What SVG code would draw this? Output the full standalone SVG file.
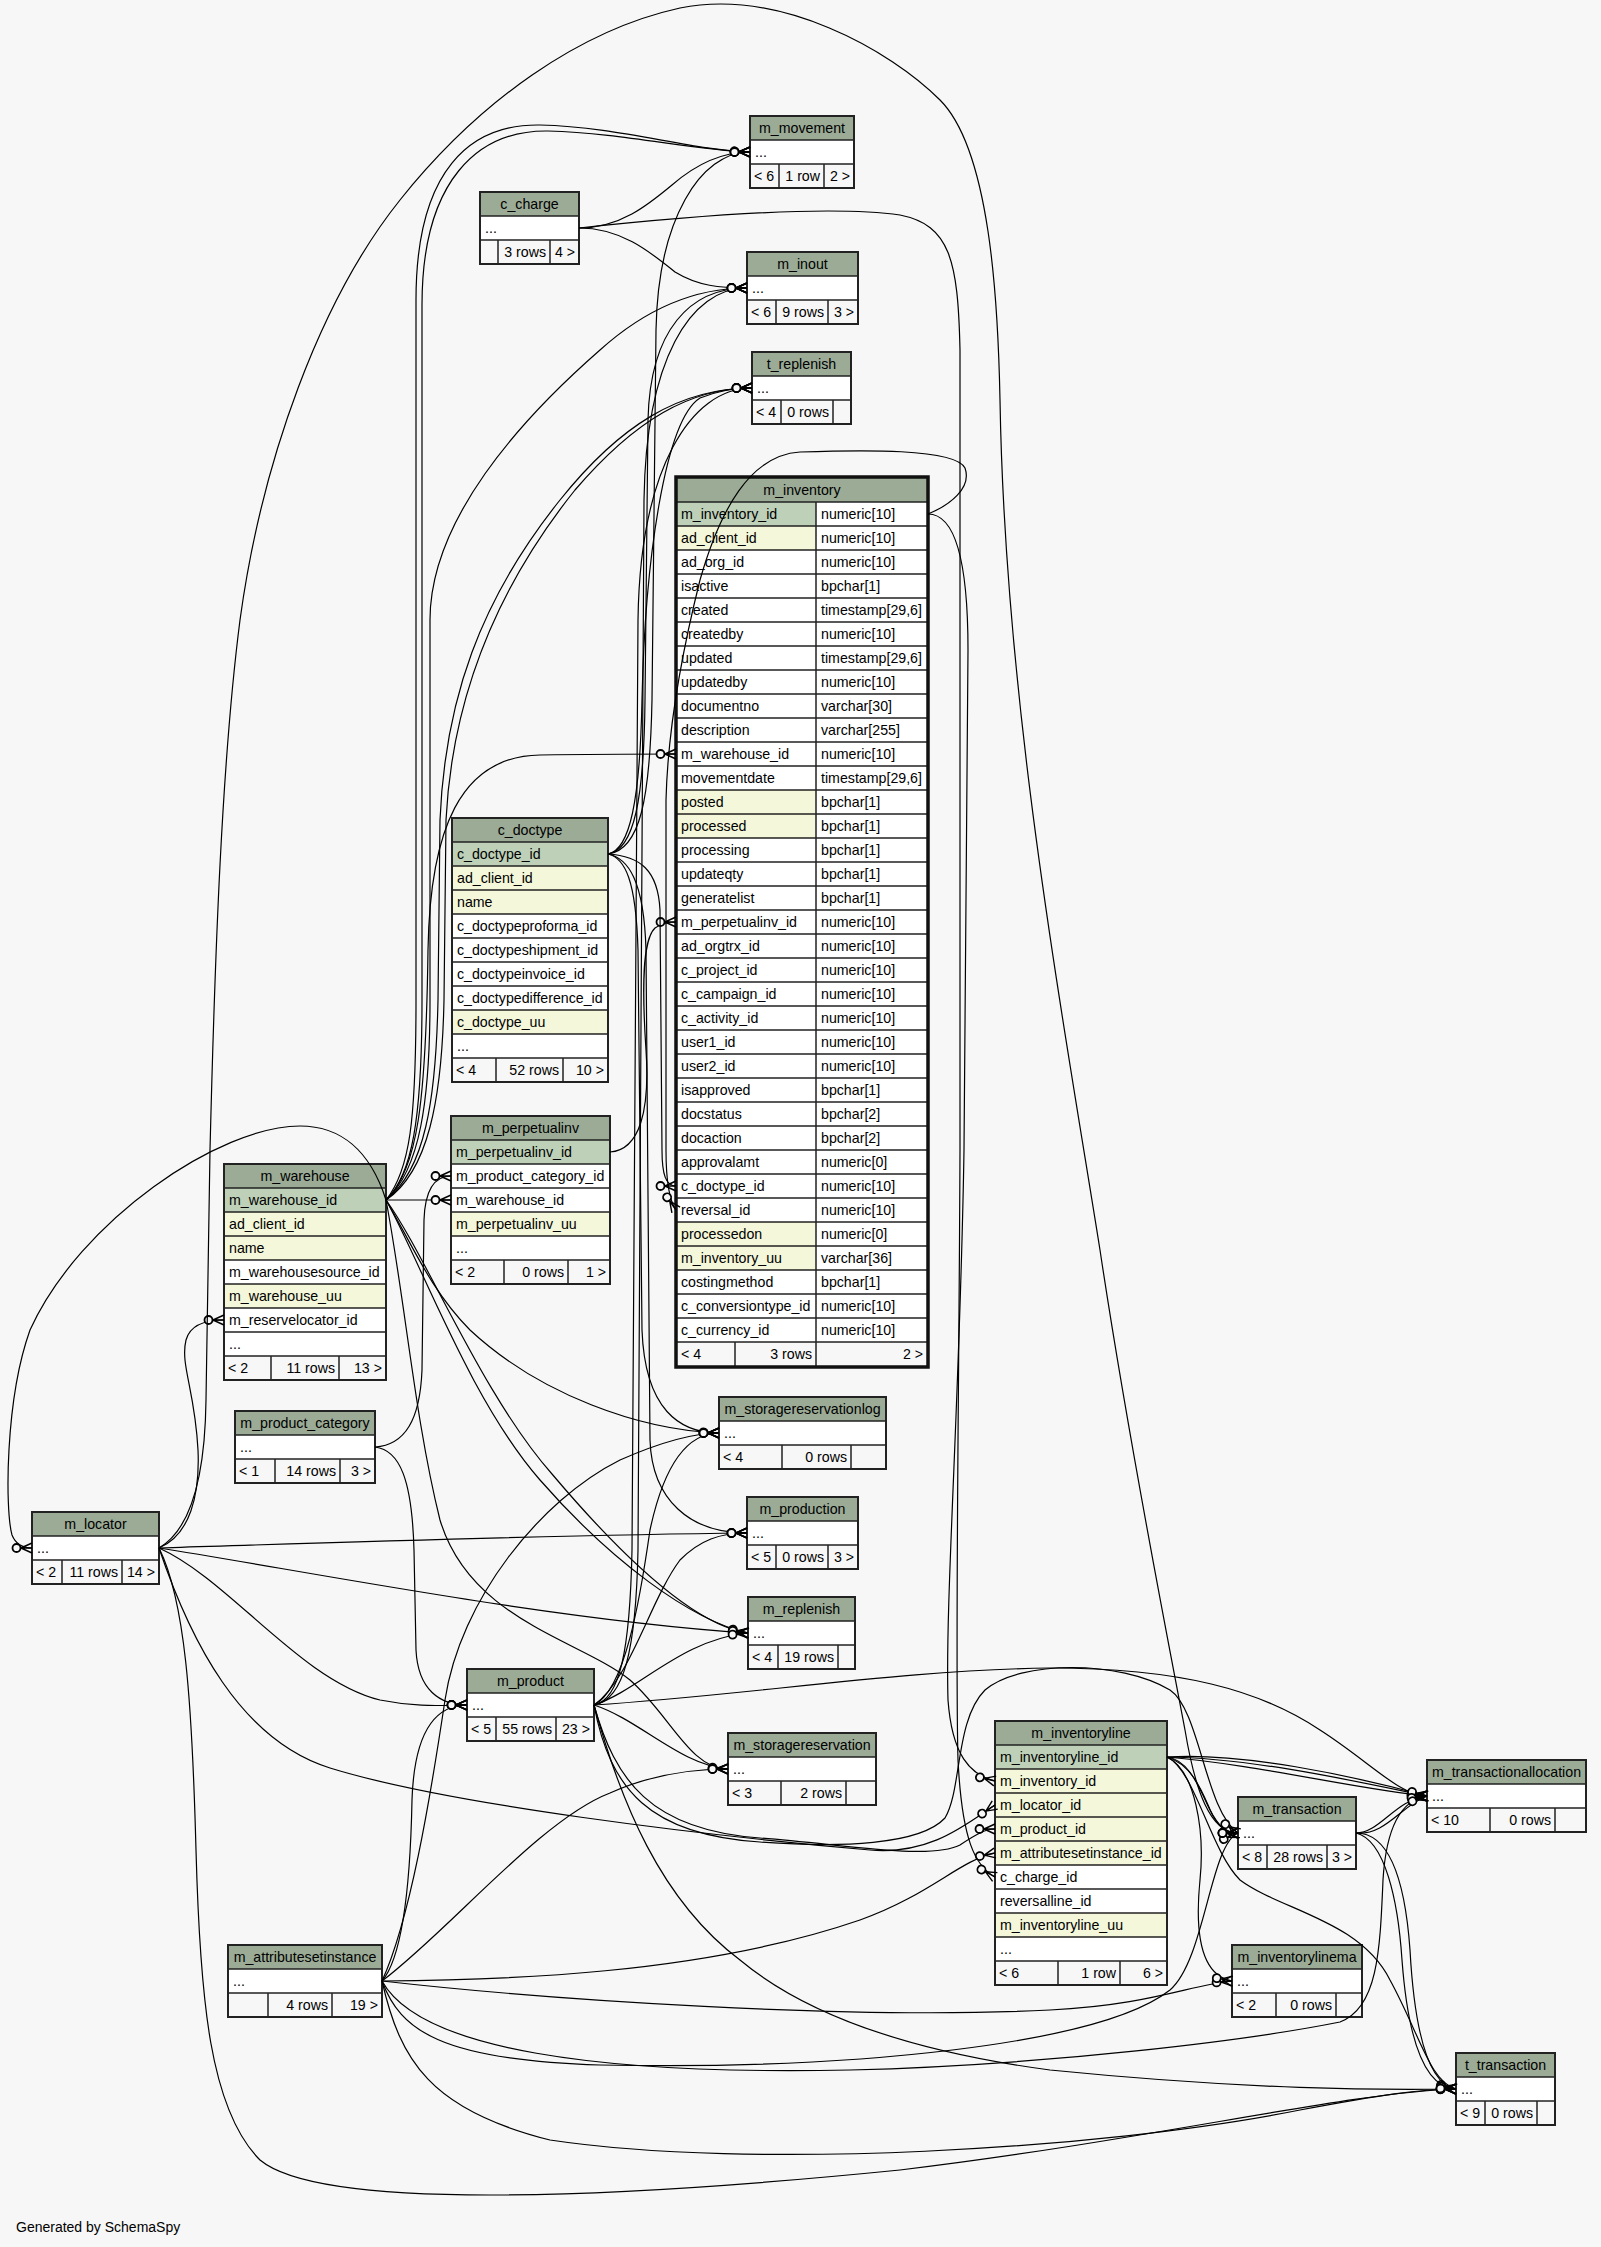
<svg xmlns="http://www.w3.org/2000/svg" width="1601" height="2247" viewBox="0 0 1601 2247">
<style>
text{font-family:"Liberation Sans",Arial,Helvetica,sans-serif;font-size:14.2px;fill:#000}
.h{fill:#9bab96}.k{fill:#bed1b8}.y{fill:#f4f7da}.w{fill:#fff}.f{fill:#f7f7f7}
.g{fill:none;stroke:#222;stroke-width:1.5}
.o{fill:none;stroke:#222;stroke-width:2}
.o2{fill:none;stroke:#111;stroke-width:3.5}
.c{text-anchor:middle}.r{text-anchor:end}
#connectors path{fill:none;stroke:#000;stroke-width:1.2;marker-end:url(#cf)}
</style>
<defs>
<marker id="cf" markerUnits="userSpaceOnUse" orient="auto" refX="0" refY="0" markerWidth="30" markerHeight="20" overflow="visible">
<path d="M-11,0L0,-5M-11,0L0,5M-11,0L0,0" fill="none" stroke="#000" stroke-width="1.4"/>
<circle cx="-15.5" cy="0" r="4" fill="#f7f7f7" stroke="#000" stroke-width="1.8"/>
</marker>
</defs>
<rect x="0" y="0" width="1601" height="2247" fill="#f7f7f7"/>

<g id="m_movement">
<rect class="h" x="750" y="116" width="104" height="24"/><rect class="w" x="750" y="140" width="104" height="24"/><rect class="f" x="750" y="164" width="104" height="24"/>
<path class="g" d="M750,140H854M750,164H854M779,164V188M824,164V188"/><rect class="o" x="750" y="116" width="104" height="72"/>
<text class="c" x="802" y="133">m_movement</text><text x="755" y="157">...</text>
<text x="754" y="181">&lt; 6</text><text class="r" x="820" y="181">1 row</text><text class="r" x="850" y="181">2 &gt;</text>
</g>

<g id="c_charge">
<rect class="h" x="480" y="192" width="99" height="24"/><rect class="w" x="480" y="216" width="99" height="24"/><rect class="f" x="480" y="240" width="99" height="24"/>
<path class="g" d="M480,216H579M480,240H579M498,240V264M550,240V264"/><rect class="o" x="480" y="192" width="99" height="72"/>
<text class="c" x="529.5" y="209">c_charge</text><text x="485" y="233">...</text>
<text class="r" x="546" y="257">3 rows</text><text class="r" x="575" y="257">4 &gt;</text>
</g>

<g id="m_inout">
<rect class="h" x="747" y="252" width="111" height="24"/><rect class="w" x="747" y="276" width="111" height="24"/><rect class="f" x="747" y="300" width="111" height="24"/>
<path class="g" d="M747,276H858M747,300H858M776,300V324M828,300V324"/><rect class="o" x="747" y="252" width="111" height="72"/>
<text class="c" x="802.5" y="269">m_inout</text><text x="752" y="293">...</text>
<text x="751" y="317">&lt; 6</text><text class="r" x="824" y="317">9 rows</text><text class="r" x="854" y="317">3 &gt;</text>
</g>

<g id="t_replenish">
<rect class="h" x="752" y="352" width="99" height="24"/><rect class="w" x="752" y="376" width="99" height="24"/><rect class="f" x="752" y="400" width="99" height="24"/>
<path class="g" d="M752,376H851M752,400H851M781,400V424M833,400V424"/><rect class="o" x="752" y="352" width="99" height="72"/>
<text class="c" x="801.5" y="369">t_replenish</text><text x="757" y="393">...</text>
<text x="756" y="417">&lt; 4</text><text class="r" x="829" y="417">0 rows</text>
</g>

<g id="m_inventory">
<rect class="h" x="676" y="477" width="252" height="25"/>
<rect class="w" x="676" y="502" width="252" height="840"/>
<rect class="k" x="676" y="502" width="140" height="24"/>
<rect class="y" x="676" y="526" width="140" height="24"/>
<rect class="y" x="676" y="790" width="140" height="48"/>
<rect class="y" x="676" y="1222" width="140" height="48"/>
<rect class="f" x="676" y="1342" width="252" height="25"/>
<path class="g" d="M676,502H928M676,526H928M676,550H928M676,574H928M676,598H928M676,622H928M676,646H928M676,670H928M676,694H928M676,718H928M676,742H928M676,766H928M676,790H928M676,814H928M676,838H928M676,862H928M676,886H928M676,910H928M676,934H928M676,958H928M676,982H928M676,1006H928M676,1030H928M676,1054H928M676,1078H928M676,1102H928M676,1126H928M676,1150H928M676,1174H928M676,1198H928M676,1222H928M676,1246H928M676,1270H928M676,1294H928M676,1318H928M676,1342H928M816,502V1367M735,1342V1367"/>
<rect class="o2" x="676" y="477" width="252" height="890"/>
<text class="c" x="802" y="495">m_inventory</text>
<text x="681" y="519">m_inventory_id</text><text x="821" y="519">numeric[10]</text>
<text x="681" y="543">ad_client_id</text><text x="821" y="543">numeric[10]</text>
<text x="681" y="567">ad_org_id</text><text x="821" y="567">numeric[10]</text>
<text x="681" y="591">isactive</text><text x="821" y="591">bpchar[1]</text>
<text x="681" y="615">created</text><text x="821" y="615">timestamp[29,6]</text>
<text x="681" y="639">createdby</text><text x="821" y="639">numeric[10]</text>
<text x="681" y="663">updated</text><text x="821" y="663">timestamp[29,6]</text>
<text x="681" y="687">updatedby</text><text x="821" y="687">numeric[10]</text>
<text x="681" y="711">documentno</text><text x="821" y="711">varchar[30]</text>
<text x="681" y="735">description</text><text x="821" y="735">varchar[255]</text>
<text x="681" y="759">m_warehouse_id</text><text x="821" y="759">numeric[10]</text>
<text x="681" y="783">movementdate</text><text x="821" y="783">timestamp[29,6]</text>
<text x="681" y="807">posted</text><text x="821" y="807">bpchar[1]</text>
<text x="681" y="831">processed</text><text x="821" y="831">bpchar[1]</text>
<text x="681" y="855">processing</text><text x="821" y="855">bpchar[1]</text>
<text x="681" y="879">updateqty</text><text x="821" y="879">bpchar[1]</text>
<text x="681" y="903">generatelist</text><text x="821" y="903">bpchar[1]</text>
<text x="681" y="927">m_perpetualinv_id</text><text x="821" y="927">numeric[10]</text>
<text x="681" y="951">ad_orgtrx_id</text><text x="821" y="951">numeric[10]</text>
<text x="681" y="975">c_project_id</text><text x="821" y="975">numeric[10]</text>
<text x="681" y="999">c_campaign_id</text><text x="821" y="999">numeric[10]</text>
<text x="681" y="1023">c_activity_id</text><text x="821" y="1023">numeric[10]</text>
<text x="681" y="1047">user1_id</text><text x="821" y="1047">numeric[10]</text>
<text x="681" y="1071">user2_id</text><text x="821" y="1071">numeric[10]</text>
<text x="681" y="1095">isapproved</text><text x="821" y="1095">bpchar[1]</text>
<text x="681" y="1119">docstatus</text><text x="821" y="1119">bpchar[2]</text>
<text x="681" y="1143">docaction</text><text x="821" y="1143">bpchar[2]</text>
<text x="681" y="1167">approvalamt</text><text x="821" y="1167">numeric[0]</text>
<text x="681" y="1191">c_doctype_id</text><text x="821" y="1191">numeric[10]</text>
<text x="681" y="1215">reversal_id</text><text x="821" y="1215">numeric[10]</text>
<text x="681" y="1239">processedon</text><text x="821" y="1239">numeric[0]</text>
<text x="681" y="1263">m_inventory_uu</text><text x="821" y="1263">varchar[36]</text>
<text x="681" y="1287">costingmethod</text><text x="821" y="1287">bpchar[1]</text>
<text x="681" y="1311">c_conversiontype_id</text><text x="821" y="1311">numeric[10]</text>
<text x="681" y="1335">c_currency_id</text><text x="821" y="1335">numeric[10]</text>
<text x="681" y="1359">&lt; 4</text><text class="r" x="812" y="1359">3 rows</text><text class="r" x="923" y="1359">2 &gt;</text>
</g>

<g id="c_doctype">
<rect class="h" x="452" y="818" width="156" height="24"/><rect class="k" x="452" y="842" width="156" height="24"/>
<rect class="y" x="452" y="866" width="156" height="48"/><rect class="w" x="452" y="914" width="156" height="96"/>
<rect class="y" x="452" y="1010" width="156" height="24"/><rect class="w" x="452" y="1034" width="156" height="24"/>
<rect class="f" x="452" y="1058" width="156" height="24"/>
<path class="g" d="M452,842H608M452,866H608M452,890H608M452,914H608M452,938H608M452,962H608M452,986H608M452,1010H608M452,1034H608M452,1058H608M496,1058V1082M563,1058V1082"/>
<rect class="o" x="452" y="818" width="156" height="264"/>
<text class="c" x="530" y="835">c_doctype</text>
<text x="457" y="859">c_doctype_id</text><text x="457" y="883">ad_client_id</text><text x="457" y="907">name</text>
<text x="457" y="931">c_doctypeproforma_id</text><text x="457" y="955">c_doctypeshipment_id</text>
<text x="457" y="979">c_doctypeinvoice_id</text><text x="457" y="1003">c_doctypedifference_id</text>
<text x="457" y="1027">c_doctype_uu</text><text x="457" y="1051">...</text>
<text x="456" y="1075">&lt; 4</text><text class="r" x="559" y="1075">52 rows</text><text class="r" x="604" y="1075">10 &gt;</text>
</g>

<g id="m_perpetualinv">
<rect class="h" x="451" y="1116" width="159" height="24"/><rect class="k" x="451" y="1140" width="159" height="24"/>
<rect class="w" x="451" y="1164" width="159" height="48"/><rect class="y" x="451" y="1212" width="159" height="24"/>
<rect class="w" x="451" y="1236" width="159" height="24"/><rect class="f" x="451" y="1260" width="159" height="24"/>
<path class="g" d="M451,1140H610M451,1164H610M451,1188H610M451,1212H610M451,1236H610M451,1260H610M504,1260V1284M568,1260V1284"/>
<rect class="o" x="451" y="1116" width="159" height="168"/>
<text class="c" x="530.5" y="1133">m_perpetualinv</text>
<text x="456" y="1157">m_perpetualinv_id</text><text x="456" y="1181">m_product_category_id</text>
<text x="456" y="1205">m_warehouse_id</text><text x="456" y="1229">m_perpetualinv_uu</text><text x="456" y="1253">...</text>
<text x="455" y="1277">&lt; 2</text><text class="r" x="564" y="1277">0 rows</text><text class="r" x="606" y="1277">1 &gt;</text>
</g>

<g id="m_warehouse">
<rect class="h" x="224" y="1164" width="162" height="24"/><rect class="k" x="224" y="1188" width="162" height="24"/>
<rect class="y" x="224" y="1212" width="162" height="48"/><rect class="w" x="224" y="1260" width="162" height="24"/>
<rect class="y" x="224" y="1284" width="162" height="24"/><rect class="w" x="224" y="1308" width="162" height="48"/>
<rect class="f" x="224" y="1356" width="162" height="24"/>
<path class="g" d="M224,1188H386M224,1212H386M224,1236H386M224,1260H386M224,1284H386M224,1308H386M224,1332H386M224,1356H386M271,1356V1380M339,1356V1380"/>
<rect class="o" x="224" y="1164" width="162" height="216"/>
<text class="c" x="305" y="1181">m_warehouse</text>
<text x="229" y="1205">m_warehouse_id</text><text x="229" y="1229">ad_client_id</text><text x="229" y="1253">name</text>
<text x="229" y="1277">m_warehousesource_id</text><text x="229" y="1301">m_warehouse_uu</text>
<text x="229" y="1325">m_reservelocator_id</text><text x="229" y="1349">...</text>
<text x="228" y="1373">&lt; 2</text><text class="r" x="335" y="1373">11 rows</text><text class="r" x="382" y="1373">13 &gt;</text>
</g>

<g id="m_product_category">
<rect class="h" x="235" y="1411" width="140" height="24"/><rect class="w" x="235" y="1435" width="140" height="24"/><rect class="f" x="235" y="1459" width="140" height="24"/>
<path class="g" d="M235,1435H375M235,1459H375M275,1459V1483M340,1459V1483"/><rect class="o" x="235" y="1411" width="140" height="72"/>
<text class="c" x="305" y="1428">m_product_category</text><text x="240" y="1452">...</text>
<text x="239" y="1476">&lt; 1</text><text class="r" x="336" y="1476">14 rows</text><text class="r" x="371" y="1476">3 &gt;</text>
</g>

<g id="m_locator">
<rect class="h" x="32" y="1512" width="127" height="24"/><rect class="w" x="32" y="1536" width="127" height="24"/><rect class="f" x="32" y="1560" width="127" height="24"/>
<path class="g" d="M32,1536H159M32,1560H159M62,1560V1584M122,1560V1584"/><rect class="o" x="32" y="1512" width="127" height="72"/>
<text class="c" x="95.5" y="1529">m_locator</text><text x="37" y="1553">...</text>
<text x="36" y="1577">&lt; 2</text><text class="r" x="118" y="1577">11 rows</text><text class="r" x="155" y="1577">14 &gt;</text>
</g>

<g id="m_storagereservationlog">
<rect class="h" x="719" y="1397" width="167" height="24"/><rect class="w" x="719" y="1421" width="167" height="24"/><rect class="f" x="719" y="1445" width="167" height="24"/>
<path class="g" d="M719,1421H886M719,1445H886M782,1445V1469M851,1445V1469"/><rect class="o" x="719" y="1397" width="167" height="72"/>
<text class="c" x="802.5" y="1414">m_storagereservationlog</text><text x="724" y="1438">...</text>
<text x="723" y="1462">&lt; 4</text><text class="r" x="847" y="1462">0 rows</text>
</g>

<g id="m_production">
<rect class="h" x="747" y="1497" width="111" height="24"/><rect class="w" x="747" y="1521" width="111" height="24"/><rect class="f" x="747" y="1545" width="111" height="24"/>
<path class="g" d="M747,1521H858M747,1545H858M776,1545V1569M828,1545V1569"/><rect class="o" x="747" y="1497" width="111" height="72"/>
<text class="c" x="802.5" y="1514">m_production</text><text x="752" y="1538">...</text>
<text x="751" y="1562">&lt; 5</text><text class="r" x="824" y="1562">0 rows</text><text class="r" x="854" y="1562">3 &gt;</text>
</g>

<g id="m_replenish">
<rect class="h" x="748" y="1597" width="107" height="24"/><rect class="w" x="748" y="1621" width="107" height="24"/><rect class="f" x="748" y="1645" width="107" height="24"/>
<path class="g" d="M748,1621H855M748,1645H855M778,1645V1669M838,1645V1669"/><rect class="o" x="748" y="1597" width="107" height="72"/>
<text class="c" x="801.5" y="1614">m_replenish</text><text x="753" y="1638">...</text>
<text x="752" y="1662">&lt; 4</text><text class="r" x="834" y="1662">19 rows</text>
</g>

<g id="m_product">
<rect class="h" x="467" y="1669" width="127" height="24"/><rect class="w" x="467" y="1693" width="127" height="24"/><rect class="f" x="467" y="1717" width="127" height="24"/>
<path class="g" d="M467,1693H594M467,1717H594M496,1717V1741M556,1717V1741"/><rect class="o" x="467" y="1669" width="127" height="72"/>
<text class="c" x="530.5" y="1686">m_product</text><text x="472" y="1710">...</text>
<text x="471" y="1734">&lt; 5</text><text class="r" x="552" y="1734">55 rows</text><text class="r" x="590" y="1734">23 &gt;</text>
</g>

<g id="m_storagereservation">
<rect class="h" x="728" y="1733" width="148" height="24"/><rect class="w" x="728" y="1757" width="148" height="24"/><rect class="f" x="728" y="1781" width="148" height="24"/>
<path class="g" d="M728,1757H876M728,1781H876M781,1781V1805M846,1781V1805"/><rect class="o" x="728" y="1733" width="148" height="72"/>
<text class="c" x="802" y="1750">m_storagereservation</text><text x="733" y="1774">...</text>
<text x="732" y="1798">&lt; 3</text><text class="r" x="842" y="1798">2 rows</text>
</g>

<g id="m_inventoryline">
<rect class="h" x="995" y="1721" width="172" height="24"/><rect class="k" x="995" y="1745" width="172" height="24"/>
<rect class="y" x="995" y="1769" width="172" height="96"/><rect class="w" x="995" y="1865" width="172" height="48"/>
<rect class="y" x="995" y="1913" width="172" height="24"/><rect class="w" x="995" y="1937" width="172" height="24"/>
<rect class="f" x="995" y="1961" width="172" height="24"/>
<path class="g" d="M995,1745H1167M995,1769H1167M995,1793H1167M995,1817H1167M995,1841H1167M995,1865H1167M995,1889H1167M995,1913H1167M995,1937H1167M995,1961H1167M1058,1961V1985M1120,1961V1985"/>
<rect class="o" x="995" y="1721" width="172" height="264"/>
<text class="c" x="1081" y="1738">m_inventoryline</text>
<text x="1000" y="1762">m_inventoryline_id</text><text x="1000" y="1786">m_inventory_id</text><text x="1000" y="1810">m_locator_id</text>
<text x="1000" y="1834">m_product_id</text><text x="1000" y="1858">m_attributesetinstance_id</text><text x="1000" y="1882">c_charge_id</text>
<text x="1000" y="1906">reversalline_id</text><text x="1000" y="1930">m_inventoryline_uu</text><text x="1000" y="1954">...</text>
<text x="999" y="1978">&lt; 6</text><text class="r" x="1116" y="1978">1 row</text><text class="r" x="1163" y="1978">6 &gt;</text>
</g>

<g id="m_transaction">
<rect class="h" x="1238" y="1797" width="118" height="24"/><rect class="w" x="1238" y="1821" width="118" height="24"/><rect class="f" x="1238" y="1845" width="118" height="24"/>
<path class="g" d="M1238,1821H1356M1238,1845H1356M1267,1845V1869M1327,1845V1869"/><rect class="o" x="1238" y="1797" width="118" height="72"/>
<text class="c" x="1297" y="1814">m_transaction</text><text x="1243" y="1838">...</text>
<text x="1242" y="1862">&lt; 8</text><text class="r" x="1323" y="1862">28 rows</text><text class="r" x="1352" y="1862">3 &gt;</text>
</g>

<g id="m_transactionallocation">
<rect class="h" x="1427" y="1760" width="159" height="24"/><rect class="w" x="1427" y="1784" width="159" height="24"/><rect class="f" x="1427" y="1808" width="159" height="24"/>
<path class="g" d="M1427,1784H1586M1427,1808H1586M1490,1808V1832M1555,1808V1832"/><rect class="o" x="1427" y="1760" width="159" height="72"/>
<text class="c" x="1506.5" y="1777">m_transactionallocation</text><text x="1432" y="1801">...</text>
<text x="1431" y="1825">&lt; 10</text><text class="r" x="1551" y="1825">0 rows</text>
</g>

<g id="m_inventorylinema">
<rect class="h" x="1232" y="1945" width="130" height="24"/><rect class="w" x="1232" y="1969" width="130" height="24"/><rect class="f" x="1232" y="1993" width="130" height="24"/>
<path class="g" d="M1232,1969H1362M1232,1993H1362M1276,1993V2017M1336,1993V2017"/><rect class="o" x="1232" y="1945" width="130" height="72"/>
<text class="c" x="1297" y="1962">m_inventorylinema</text><text x="1237" y="1986">...</text>
<text x="1236" y="2010">&lt; 2</text><text class="r" x="1332" y="2010">0 rows</text>
</g>

<g id="t_transaction">
<rect class="h" x="1456" y="2053" width="99" height="24"/><rect class="w" x="1456" y="2077" width="99" height="24"/><rect class="f" x="1456" y="2101" width="99" height="24"/>
<path class="g" d="M1456,2077H1555M1456,2101H1555M1485,2101V2125M1537,2101V2125"/><rect class="o" x="1456" y="2053" width="99" height="72"/>
<text class="c" x="1505.5" y="2070">t_transaction</text><text x="1461" y="2094">...</text>
<text x="1460" y="2118">&lt; 9</text><text class="r" x="1533" y="2118">0 rows</text>
</g>

<g id="m_attributesetinstance">
<rect class="h" x="228" y="1945" width="154" height="24"/><rect class="w" x="228" y="1969" width="154" height="24"/><rect class="f" x="228" y="1993" width="154" height="24"/>
<path class="g" d="M228,1969H382M228,1993H382M268,1993V2017M332,1993V2017"/><rect class="o" x="228" y="1945" width="154" height="72"/>
<text class="c" x="305" y="1962">m_attributesetinstance</text><text x="233" y="1986">...</text>
<text class="r" x="328" y="2010">4 rows</text><text class="r" x="378" y="2010">19 &gt;</text>
</g>

<g id="connectors">
<path d="M386,1200 C410,1170 416,1120 416,1000 L416,300 C416,170 470,124 540,125 C620,127 690,150 750,152"/>
<path d="M386,1200 C412,1175 422,1120 422,1000 L422,305 C422,180 478,130 548,131 C625,133 690,150 750,152"/>
<path d="M579,228 C620,228 648,205 672,185 C695,165 720,152 750,152"/>
<path d="M608,854 C640,850 650,800 652,700 L656,330 C658,220 700,152 750,152"/>
<path d="M579,228 C620,228 648,250 675,272 C698,286 720,288 747,288"/>
<path d="M386,1200 C420,1170 430,1100 430,1000 L430,620 C430,520 520,420 600,350 C650,305 700,288 747,288"/>
<path d="M608,854 C634,850 644,800 645,700 L648,420 C650,330 690,288 747,288"/>
<path d="M594,1705 C624,1700 636,1650 638,1550 L644,500 C646,360 690,288 747,288"/>
<path d="M386,1200 C425,1170 436,1100 438,1000 L440,820 C445,700 480,600 560,500 C620,425 680,388 752,388"/>
<path d="M386,1200 C428,1172 442,1100 444,1000 L446,820 C452,700 495,590 575,490 C635,420 690,388 752,388"/>
<path d="M608,854 C630,850 640,800 642,700 C645,560 665,420 700,398 C720,390 735,388 752,388"/>
<path d="M594,1705 C620,1700 630,1650 632,1550 L638,620 C640,470 690,388 752,388"/>
<path d="M386,1200 C418,1170 426,1100 428,950 C430,830 460,756 540,755 C600,754 640,754 676,754"/>
<path d="M610,1152 C640,1150 650,1110 646,1050 C642,990 642,940 655,928 C662,923 668,922 676,922"/>
<path d="M608,854 C640,856 658,870 660,910 L662,1150 C662,1175 666,1186 676,1186"/>
<path d="M928,514 C950,505 972,488 965,468 C955,448 860,450 800,452 C750,455 720,510 700,580 C685,640 668,720 666,800 L666,1150 C666,1180 669,1200 676,1210"/>
<path d="M375,1447 C405,1445 420,1420 422,1370 L424,1220 C425,1190 435,1176 451,1176"/>
<path d="M386,1200 C410,1200 430,1200 451,1200"/>
<path d="M386,1200 C370,1150 340,1126 300,1126 C220,1126 80,1220 30,1330 C5,1400 5,1510 12,1535 C16,1545 24,1548 32,1548"/>
<path d="M159,1548 C190,1535 200,1495 198,1450 C195,1390 180,1365 186,1340 C190,1325 205,1320 224,1320"/>
<path d="M159,1548 C190,1530 205,1480 206,1400 L210,1150 C215,950 222,760 240,620 C262,460 320,300 400,200 C480,100 580,30 680,8 C780,-12 890,50 940,100 C990,150 998,300 1000,400 C1005,700 1060,1000 1100,1250 C1130,1450 1170,1650 1185,1730 C1195,1790 1210,1833 1238,1833"/>
<path d="M159,1548 C350,1542 550,1535 747,1533"/>
<path d="M159,1548 C300,1570 550,1620 748,1633"/>
<path d="M159,1548 C230,1580 300,1680 380,1700 C420,1708 445,1705 467,1705"/>
<path d="M159,1548 C190,1640 240,1740 330,1768 C450,1805 700,1835 870,1850 C930,1855 965,1825 995,1805"/>
<path d="M159,1548 C185,1600 192,1700 196,1850 C200,2000 210,2110 260,2160 C320,2210 600,2200 900,2170 C1150,2140 1350,2092 1456,2089"/>
<path d="M386,1200 C410,1240 430,1290 470,1330 C540,1395 640,1430 719,1433"/>
<path d="M386,1200 C420,1260 470,1400 540,1480 C610,1560 690,1620 748,1633"/>
<path d="M386,1200 C426,1255 482,1395 552,1474 C618,1552 692,1625 748,1633"/>
<path d="M386,1200 C405,1300 415,1420 440,1520 C470,1620 580,1640 630,1680 C670,1715 690,1769 728,1769"/>
<path d="M375,1447 C400,1450 412,1480 414,1550 L416,1650 C418,1690 440,1705 467,1705"/>
<path d="M382,1981 C400,1960 410,1900 412,1800 C414,1740 430,1705 467,1705"/>
<path d="M594,1705 C625,1690 640,1600 650,1530 C665,1460 690,1433 719,1433"/>
<path d="M594,1705 C630,1680 650,1600 680,1560 C700,1540 720,1533 747,1533"/>
<path d="M594,1705 C640,1690 680,1640 748,1633"/>
<path d="M594,1705 C640,1720 680,1765 728,1769"/>
<path d="M594,1705 C615,1780 650,1830 760,1838 C850,1845 930,1860 960,1845 C975,1835 985,1829 995,1829"/>
<path d="M594,1705 C750,1695 900,1670 1050,1668 C1180,1668 1260,1690 1320,1730 C1370,1762 1400,1796 1427,1796"/>
<path d="M594,1705 C610,1790 650,1835 760,1842 C840,1848 920,1845 945,1818 C962,1790 955,1720 985,1690 C1020,1660 1120,1660 1170,1690 C1200,1710 1205,1810 1238,1833"/>
<path d="M594,1705 C620,1800 660,1900 740,1960 C800,2010 900,2050 1050,2070 C1250,2090 1380,2090 1456,2089"/>
<path d="M382,1981 C410,1920 430,1800 445,1700 C460,1600 540,1500 620,1460 C670,1438 700,1433 719,1433"/>
<path d="M382,1981 C450,1930 540,1820 610,1793 C650,1775 690,1769 728,1769"/>
<path d="M382,1981 C500,1980 700,1975 860,1920 C930,1895 960,1860 995,1853"/>
<path d="M382,1981 C550,2000 850,2020 1050,2010 C1150,2005 1190,1985 1232,1981"/>
<path d="M382,1981 C400,2030 440,2060 600,2065 C850,2070 1100,2045 1170,1990 C1205,1960 1210,1845 1238,1833"/>
<path d="M382,1981 C400,2060 430,2110 550,2140 C750,2170 1100,2150 1300,2110 C1380,2095 1420,2089 1456,2089"/>
<path d="M382,1981 C420,2050 600,2075 850,2070 C1050,2065 1250,2040 1340,2022 C1378,2008 1380,1950 1383,1880 C1386,1830 1400,1800 1427,1796"/>
<path d="M928,514 C955,514 968,560 968,650 L964,1150 C960,1400 945,1600 948,1700 C952,1755 970,1775 995,1781"/>
<path d="M579,228 C700,215 830,205 900,215 C950,225 958,260 960,350 L960,1150 C959,1400 955,1650 958,1760 C962,1840 975,1866 995,1877"/>
<path d="M1167,1757 C1190,1760 1200,1790 1210,1810 C1218,1825 1225,1833 1238,1833"/>
<path d="M1167,1757 C1195,1765 1205,1800 1213,1816 C1221,1830 1228,1833 1238,1833"/>
<path d="M1167,1757 C1250,1758 1350,1780 1427,1796"/>
<path d="M1167,1757 C1260,1765 1360,1790 1427,1796"/>
<path d="M1167,1757 C1240,1752 1350,1775 1427,1796"/>
<path d="M1167,1757 C1195,1770 1205,1830 1200,1880 C1195,1930 1200,1975 1232,1981"/>
<path d="M1167,1757 C1195,1770 1210,1850 1240,1880 C1280,1910 1360,1920 1390,1980 C1420,2035 1430,2082 1456,2089"/>
<path d="M1356,1833 C1380,1833 1395,1800 1427,1796"/>
<path d="M1356,1833 C1385,1836 1402,1805 1427,1796"/>
<path d="M1356,1833 C1390,1833 1405,1880 1410,1950 C1415,2040 1430,2085 1456,2089"/>
<path d="M1356,1833 C1385,1840 1398,1900 1402,1960 C1408,2040 1425,2088 1456,2089"/>
<path d="M608,854 C625,858 636,880 638,950 L642,1330 C645,1410 680,1433 719,1433"/>
<path d="M608,854 C628,858 644,880 646,950 L650,1440 C652,1500 690,1533 747,1533"/>
</g>

<text x="16" y="2232" style="font-size:14px">Generated by SchemaSpy</text>
</svg>
